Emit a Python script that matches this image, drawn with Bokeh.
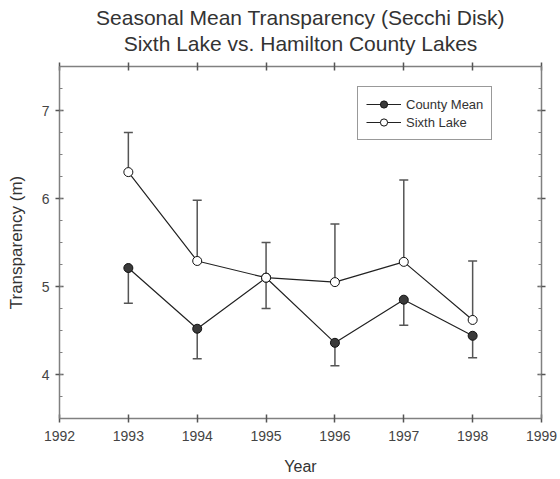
from bokeh.plotting import figure
from bokeh.models import (LinearAxis, SingleIntervalTicker, FixedTicker, Range1d, Whisker,
                          TeeHead, ColumnDataSource, Legend, LegendItem, Title,
                          CustomJSTickFormatter)
from bokeh.embed import file_html
from bokeh.resources import INLINE

years = [1993, 1994, 1995, 1996, 1997, 1998]
county_mean = [5.21, 4.52, 5.10, 4.36, 4.85, 4.44]
county_lower = [4.81, 4.18, 4.75, 4.10, 4.56, 4.19]
sixth_lake = [6.30, 5.29, 5.10, 5.05, 5.28, 4.62]
sixth_upper = [6.75, 5.98, 5.50, 5.71, 6.21, 5.29]
x_ticks = [1992, 1993, 1994, 1995, 1996, 1997, 1998, 1999]
y_ticks = [4, 5, 6, 7]
title_lines = ["Seasonal Mean Transparency (Secchi Disk)",
               "Sixth Lake vs. Hamilton County Lakes"]

FONT = "Liberation Sans"
AXIS_COL = "#808080"

p = figure(width=560, height=479, x_range=Range1d(1992, 1999), y_range=Range1d(3.5, 7.5),
           output_backend="svg", toolbar_location=None,
           x_axis_location=None, y_axis_location=None,
           min_border_left=59, min_border_right=19, min_border_top=66, min_border_bottom=61)
p.grid.visible = False
p.outline_line_color = None
p.background_fill_color = "white"
p.border_fill_color = "white"

blank = CustomJSTickFormatter(code="return '';")


def style_axis(ax, labels=True):
    ax.axis_line_color = AXIS_COL
    ax.axis_line_width = 1.5
    ax.major_tick_line_color = "#555555"
    ax.major_tick_line_width = 1.5
    ax.minor_tick_line_color = AXIS_COL
    ax.major_tick_in = 4
    ax.major_tick_out = 4
    ax.minor_tick_in = 3
    ax.minor_tick_out = 0
    ax.major_label_text_font = FONT
    ax.major_label_text_font_size = "14px"
    ax.major_label_text_color = "#444444"
    ax.axis_label_text_font = FONT
    ax.axis_label_text_font_style = "normal"
    ax.axis_label_text_color = "#333333"
    if not labels:
        ax.formatter = blank
        ax.major_label_standoff = 0


xb = LinearAxis(ticker=FixedTicker(ticks=x_ticks), axis_label="Year")
style_axis(xb)
xb.major_label_standoff = 8
xb.axis_label_standoff = 14
xb.axis_label_text_font_size = "16px"
p.add_layout(xb, "below")

# top axis: ticks only, second title line carried as its label
xt = LinearAxis(ticker=FixedTicker(ticks=x_ticks), axis_label=title_lines[1])
style_axis(xt, labels=False)
xt.axis_label_standoff = 8
xt.axis_label_text_font_size = "21px"
xt.axis_label_text_color = "#333333"
p.add_layout(xt, "above")

yl = LinearAxis(ticker=SingleIntervalTicker(interval=1, num_minor_ticks=4),
                axis_label="Transparency (m)")
style_axis(yl)
yl.major_label_standoff = 6
yl.axis_label_standoff = 13
yl.axis_label_text_font_size = "17px"
p.add_layout(yl, "left")

yr = LinearAxis(ticker=SingleIntervalTicker(interval=1, num_minor_ticks=4))
style_axis(yr, labels=False)
p.add_layout(yr, "right")

src = ColumnDataSource(dict(year=years, cm=county_mean, cl=county_lower,
                            sl=sixth_lake, su=sixth_upper))

w1 = Whisker(source=src, base="year", upper="cm", lower="cl", upper_head=None,
             lower_head=TeeHead(size=9, line_color="#555555", line_width=1.5),
             line_color="#555555", line_width=1.5, level="underlay")
w2 = Whisker(source=src, base="year", upper="su", lower="sl", lower_head=None,
             upper_head=TeeHead(size=9, line_color="#555555", line_width=1.5),
             line_color="#555555", line_width=1.5, level="underlay")
p.add_layout(w1)
p.add_layout(w2)

l1 = p.line("year", "cm", source=src, line_color="#222222", line_width=1.2)
s1 = p.scatter("year", "cm", source=src, marker="circle", size=9,
               fill_color="#3a3a3a", line_color="#111111", line_width=1)
l2 = p.line("year", "sl", source=src, line_color="#222222", line_width=1.2)
s2 = p.scatter("year", "sl", source=src, marker="circle", size=9,
               fill_color="white", line_color="#111111", line_width=1)

legend = Legend(items=[LegendItem(label="County Mean", renderers=[l1, s1]),
                       LegendItem(label="Sixth Lake", renderers=[l2, s2])],
                location=(298, 278))
legend.border_line_color = "#333333"
legend.border_line_width = 1.5
legend.background_fill_color = "white"
legend.background_fill_alpha = 1
legend.label_text_font = FONT
legend.label_text_font_size = "13px"
legend.label_text_color = "#333333"
legend.glyph_width = 35
legend.glyph_height = 18
legend.label_height = 18
legend.spacing = 0
legend.padding = 8
legend.margin = 0
legend.label_standoff = 5
p.add_layout(legend)

t1 = Title(text=title_lines[0], align="center",
           text_font=FONT, text_font_size="21px", text_font_style="normal",
           text_color="#333333", standoff=0, offset=0)
p.add_layout(t1, "above")

open("out.html", "w").write(file_html(p, INLINE))
